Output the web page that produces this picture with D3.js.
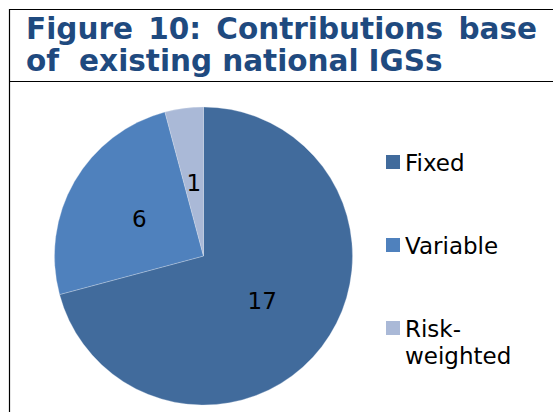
<!DOCTYPE html>
<html>
<head>
<meta charset="utf-8">
<script src="https://cdn.jsdelivr.net/npm/d3@7"></script>
<style>
  body { margin: 0; background: #fff; }
  svg { display: block; }
</style>
</head>
<body>
<div id="chart"></div>
<script>
const categories = ['Fixed', 'Variable', 'Risk-weighted'];
const values = [17, 6, 1];
const colors = ['#416b9c', '#4f81bd', '#aab9d7'];
const legendLines = [['Fixed'], ['Variable'], ['Risk-', 'weighted']];
const titleLines = [['Figure', '10:', 'Contributions', 'base'], ['of', 'existing', 'national', 'IGSs']];

const width = 553;
const height = 412;

const svg = d3.select('#chart').append('svg')
  .attr('width', width)
  .attr('height', height);

// frame lines
svg.append('line').attr('x1', 9).attr('x2', width).attr('y1', 9.5).attr('y2', 9.5)
  .attr('stroke', '#000').attr('stroke-width', 1.2);
svg.append('line').attr('x1', 9.5).attr('x2', 9.5).attr('y1', 9).attr('y2', height)
  .attr('stroke', '#000').attr('stroke-width', 1.2);
svg.append('line').attr('x1', 9).attr('x2', width).attr('y1', 81.5).attr('y2', 81.5)
  .attr('stroke', '#000').attr('stroke-width', 1.2);

// title, first line justified
const title = svg.append('g')
  .attr('font-family', 'DejaVu Sans, Verdana, sans-serif')
  .attr('font-weight', 'bold')
  .attr('font-size', 29.5)
  .attr('fill', '#1f4a7f');

titleLines.forEach((words, li) => {
  const y = 39 + li * 32;
  const texts = words.map(w => title.append('text').attr('y', y).text(w));
  const widths = texts.map(t => t.node().getComputedTextLength());
  const total = d3.sum(widths);
  const gaps = li === 0
    ? d3.range(words.length - 1).map(() => (537 - 26 - total) / (words.length - 1))
    : [20, 10, 10];
  let x = 26;
  texts.forEach((t, i) => {
    t.attr('x', x);
    x += widths[i] + (gaps[i] || 0);
  });
});

// pie
const cx = 203.5, cy = 256, r = 149;
const pie = d3.pie().sort(null).value(d => d)(values);
const arc = d3.arc().innerRadius(0).outerRadius(r);
const labelArc = d3.arc().innerRadius(74).outerRadius(74);

const g = svg.append('g').attr('transform', `translate(${cx},${cy})`);

g.selectAll('path')
  .data(pie)
  .join('path')
  .attr('d', arc)
  .attr('fill', (d, i) => colors[i])
  .attr('stroke', '#dfe6f0')
  .attr('stroke-width', 0.3);

g.selectAll('text')
  .data(pie)
  .join('text')
  .attr('transform', d => `translate(${labelArc.centroid(d)})`)
  .attr('text-anchor', 'middle')
  .attr('dy', '0.36em')
  .attr('font-family', 'DejaVu Sans, Verdana, sans-serif')
  .attr('font-size', 23)
  .attr('fill', '#000')
  .text(d => d.data);

// legend
const legend = svg.append('g')
  .attr('font-family', 'DejaVu Sans, Verdana, sans-serif')
  .attr('font-size', 23)
  .attr('fill', '#000');

const ly = d3.scalePoint().domain(categories).range([171, 337]);

categories.forEach((c, i) => {
  const y = ly(c);
  legend.append('rect')
    .attr('x', 386).attr('y', y - 16)
    .attr('width', 14).attr('height', 14)
    .attr('fill', colors[i]);
  const t = legend.append('text').attr('x', 405).attr('y', y);
  legendLines[i].forEach((line, j) => {
    t.append('tspan').attr('x', 405).attr('dy', j === 0 ? 0 : 27).text(line);
  });
});
</script>
</body>
</html>
